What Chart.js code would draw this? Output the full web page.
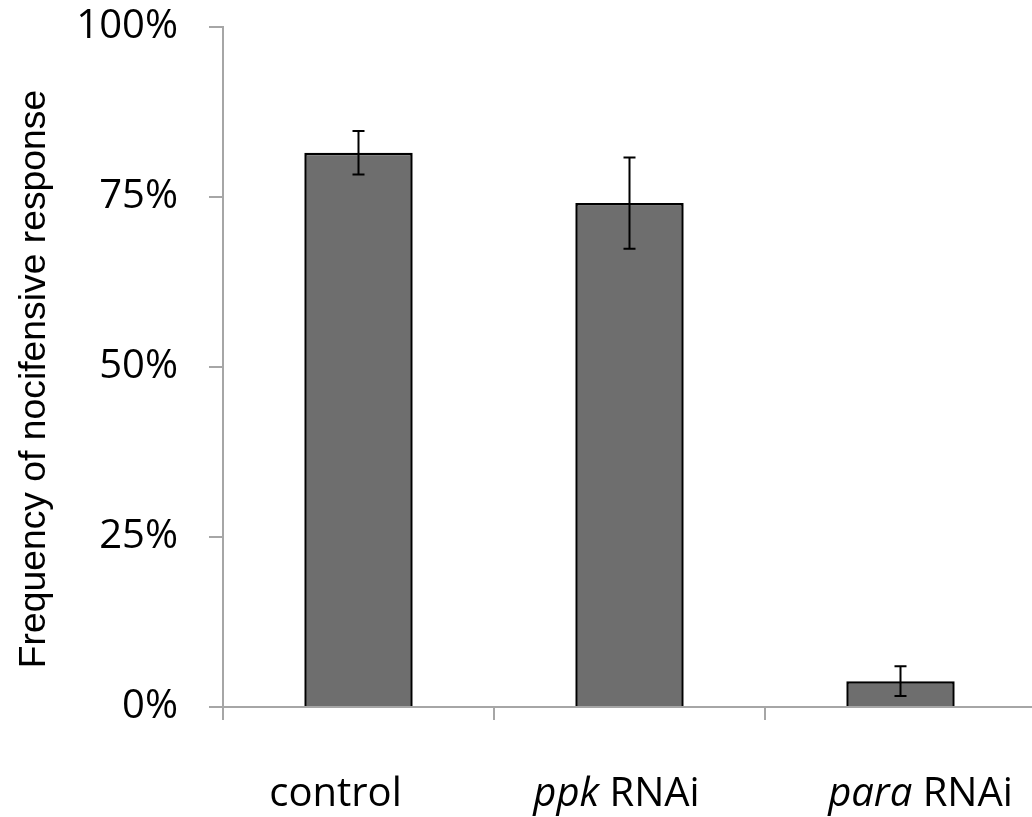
<!DOCTYPE html>
<html>
<head>
<meta charset="utf-8">
<script src="https://cdn.jsdelivr.net/npm/chart.js@4"></script>
<style>
  html, body { margin: 0; padding: 0; background: #fff; overflow: hidden; }
  #wrap { width: 1040px; height: 817px; }
</style>
</head>
<body>
<div id="wrap"><canvas id="c" width="1040" height="817"></canvas></div>
<script>
// ---- data ----
const categories = ['control', 'ppk RNAi', 'para RNAi'];
const italicGenes = ['', 'ppk', 'para'];
const responsePct = [81.5, 74.1, 3.8];
const errorPct = [3.2, 6.7, 2.2];
const yTicks = [0, 25, 50, 75, 100];
const yTitle = 'Frequency of nocifensive response';

// ---- style ----
const AXIS_COLOR = '#a6a6a6';
const LABEL_FONT = '"Open Sans", "Noto Sans", sans-serif';
const TITLE_FONT = '37.3px "Liberation Sans", Arial, sans-serif';
const labelShift = [-23, -13, 20]; // hand-placed label offsets in the original

const errorBars = {
  id: 'errorBars',
  afterDatasetsDraw(chart) {
    const { ctx, scales: { x, y } } = chart;
    ctx.save();
    ctx.strokeStyle = '#000';
    ctx.lineWidth = 2;
    responsePct.forEach((v, i) => {
      const cx = x.getPixelForValue(i);
      const top = y.getPixelForValue(v + errorPct[i]);
      const bot = y.getPixelForValue(v - errorPct[i]);
      ctx.beginPath();
      ctx.moveTo(cx, top); ctx.lineTo(cx, bot);
      ctx.moveTo(cx - 6, top); ctx.lineTo(cx + 6, top);
      ctx.moveTo(cx - 6, bot); ctx.lineTo(cx + 6, bot);
      ctx.stroke();
    });
    ctx.restore();
  }
};

const textLayer = {
  id: 'textLayer',
  afterDraw(chart) {
    const { ctx, scales: { x }, chartArea } = chart;
    ctx.save();
    ctx.fillStyle = '#000';
    ctx.textBaseline = 'alphabetic';
    const baseY = chartArea.bottom + 99;
    categories.forEach((lab, i) => {
      const gene = italicGenes[i];
      const parts = [];
      if (gene && lab.startsWith(gene)) {
        parts.push({ t: gene, f: 'italic 40px ' + LABEL_FONT });
        parts.push({ t: lab.slice(gene.length), f: '40px ' + LABEL_FONT });
      } else {
        parts.push({ t: lab, f: '40px ' + LABEL_FONT });
      }
      let total = 0;
      parts.forEach(p => { ctx.font = p.f; p.w = ctx.measureText(p.t).width; total += p.w; });
      let px = x.getPixelForValue(i) + labelShift[i] - total / 2;
      ctx.textAlign = 'left';
      parts.forEach(p => { ctx.font = p.f; ctx.fillText(p.t, px, baseY); px += p.w; });
    });
    // y-axis title (rotated)
    const midY = (chartArea.top + chartArea.bottom) / 2 + 12;
    ctx.translate(45, midY);
    ctx.rotate(-Math.PI / 2);
    ctx.font = TITLE_FONT;
    ctx.textAlign = 'center';
    ctx.fillText(yTitle, 0, 0);
    ctx.restore();
  }
};

new Chart(document.getElementById('c'), {
  type: 'bar',
  data: {
    labels: categories,
    datasets: [{
      data: responsePct,
      backgroundColor: '#6e6e6e',
      borderColor: '#000',
      borderWidth: 2.5,
      barPercentage: 0.4,
      categoryPercentage: 1.0
    }]
  },
  options: {
    responsive: false,
    animation: false,
    devicePixelRatio: 1,
    layout: { padding: { top: 27, right: 4, bottom: 97, left: 0 } },
    plugins: { legend: { display: false }, tooltip: { enabled: false } },
    scales: {
      x: {
        offset: true,
        border: { display: true, color: AXIS_COLOR, width: 2 },
        grid: { display: true, offset: true, drawOnChartArea: false, drawTicks: true, tickLength: 13, color: AXIS_COLOR, lineWidth: 2 },
        ticks: { display: false }
      },
      y: {
        min: 0, max: 100,
        afterBuildTicks(scale) { scale.ticks = yTicks.map(v => ({ value: v })); },
        afterFit(scale) { scale.width = 223; scale.paddingTop = 0; scale.paddingBottom = 0; },
        border: { display: true, color: AXIS_COLOR, width: 2 },
        grid: { drawOnChartArea: false, drawTicks: true, tickLength: 14, color: AXIS_COLOR, lineWidth: 2 },
        ticks: {
          padding: 31,
          color: '#000',
          font: { family: LABEL_FONT, size: 40 },
          callback: v => v + '%'
        },
        title: { display: false }
      }
    }
  },
  plugins: [errorBars, textLayer]
});
</script>
</body>
</html>
